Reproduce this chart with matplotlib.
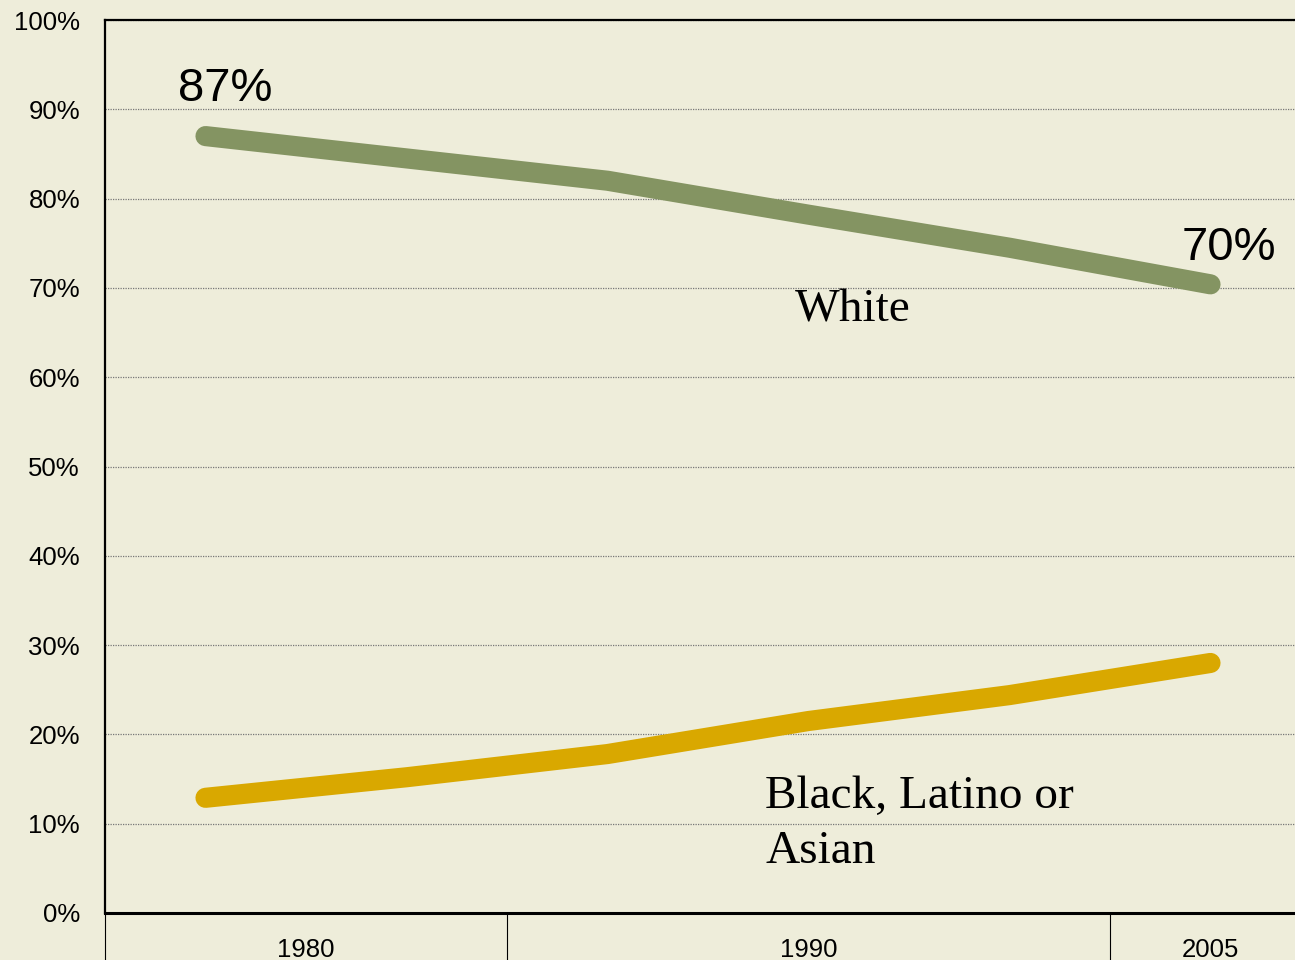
import numpy as np
import matplotlib.pyplot as plt
from matplotlib.ticker import FixedLocator, FuncFormatter

# Data (six points, category axis)
white = [87, 84.5, 82, 78.2, 74.5, 70.4]
minority = [12.9, 15.2, 17.8, 21.5, 24.4, 28]
year_labels = ["1980", "1990", "2005"]
year_groups = [2, 3, 1]  # points per year label

bg = "#EEEDDA"
plt.rcParams['font.family'] = ['Liberation Sans', 'DejaVu Sans']

fig = plt.figure(figsize=(12.95, 9.6), dpi=100, facecolor=bg)
# axes runs past the right edge like the original
ax = fig.add_axes([105 / 1295, 1 - 913 / 960, 1206 / 1295, 893 / 960])
ax.set_facecolor(bg)

x = np.arange(len(white)) + 0.5
ax.plot(x, white, color="#849462", lw=14.5, solid_capstyle="round",
        solid_joinstyle="round", zorder=3)
ax.plot(x, minority, color="#D9A800", lw=14.5, solid_capstyle="round",
        solid_joinstyle="round", zorder=3)

ax.set_xlim(0, len(white))
ax.set_ylim(0, 100)

# y axis
ax.set_yticks(np.arange(0, 101, 10))
ax.yaxis.set_major_formatter(FuncFormatter(lambda v, p: f"{v:.0f}%"))
ax.tick_params(axis="y", length=0, pad=18, labelsize=18.5)
ax.grid(axis="y", color="#777777", lw=0.9, ls=(0, (1, 1)))

# x axis: group separators as long minor ticks, labels centered in groups
edges = np.concatenate([[0], np.cumsum(year_groups)])
centers = (edges[:-1] + edges[1:]) / 2
ax.xaxis.set_minor_locator(FixedLocator(edges))
ax.xaxis.set_major_locator(FixedLocator(centers))
ax.set_xticklabels(year_labels)
ax.tick_params(axis="x", which="major", length=0, pad=18, labelsize=18.5)
ax.tick_params(axis="x", which="minor", length=34, width=0.8, color="black")

for s in ["left", "top"]:
    ax.spines[s].set_linewidth(1.6)
ax.spines["bottom"].set_linewidth(2.2)
ax.spines["right"].set_visible(False)

# annotations
ax.text(0.363, 90.9, "87%", fontsize=34, va="baseline", ha="left")
ax.text(5.358, 73.1, "70%", fontsize=34, va="baseline", ha="left")
serif = ['Liberation Serif', 'DejaVu Serif']
ax.text(3.433, 66.2, "White", fontsize=34, family=serif, va="baseline")
ax.text(3.284, 11.8, "Black, Latino or", fontsize=34, family=serif, va="baseline")
ax.text(3.284, 5.6, "Asian", fontsize=34, family=serif, va="baseline")

fig.savefig("out.png", dpi=100, facecolor=bg)
